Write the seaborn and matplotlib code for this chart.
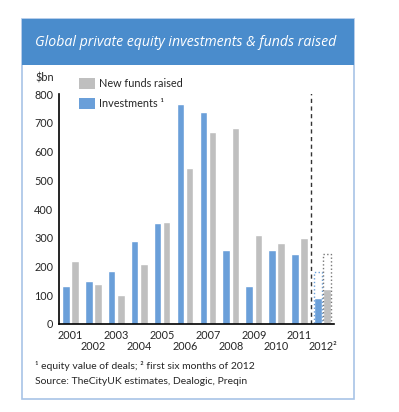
import pandas as pd
import numpy as np
import seaborn as sns
import matplotlib.pyplot as plt
import matplotlib.transforms as mtransforms
from matplotlib.patches import Rectangle, Patch

# datos
years = ['2001', '2002', '2003', '2004', '2005', '2006',
         '2007', '2008', '2009', '2010', '2011', '2012']
investments = [133, 150, 183, 290, 353, 764, 736, 258, 131, 259, 245, 90]
funds_raised = [218, 139, 102, 208, 356, 543, 669, 681, 310, 281, 299, 123]
# 2012 estimado a año completo (contorno punteado)
inv_2012_full = 181
funds_2012_full = 244

year_labels = list(years)
year_labels[-1] = '2012\u00b2'

blue = '#6a9fd9'
grey = '#bfbfbf'
header = '#4a8ccc'

df = pd.DataFrame({'Año': years * 2,
                   'valor': investments + funds_raised,
                   'serie': ['Investments'] * len(years) + ['New funds raised'] * len(years)})

sns.set_style('white')
plt.rcParams['font.family'] = ['Lato', 'DejaVu Sans']

fig = plt.figure(figsize=(3.99, 4.12), dpi=100)

# marco y cabecera
fig.patches.append(Rectangle((0.0551, 0.0316), 0.8321, 0.9223, transform=fig.transFigure,
                             facecolor='white', edgecolor='#a8c4e6', lw=1.2, zorder=-2))
fig.patches.append(Rectangle((0.0551, 0.842), 0.8321, 0.112, transform=fig.transFigure,
                             facecolor=header, edgecolor='none', zorder=-1))
fig.text(0.088, 0.898, 'Global private equity investments & funds raised', color='white',
         fontsize=10.2, style='italic', family=['Open Sans', 'DejaVu Sans'], va='center')

ax = fig.add_axes([0.1479, 0.2136, 0.689, 0.558])
ax.set_zorder(2)
ax.patch.set_alpha(0)

sns.barplot(data=df, x='Año', y='valor', hue='serie', hue_order=['Investments', 'New funds raised'],
            palette=[blue, grey], width=0.8, gap=0.18, saturation=1, legend=False, ax=ax)

# 2012 contornos punteados
ax.bar([11 - 0.2], [inv_2012_full], width=0.33, fill=False, edgecolor=blue, linestyle=':', lw=1)
ax.bar([11 + 0.2], [funds_2012_full], width=0.33, fill=False, edgecolor='#777777', linestyle=':', lw=1)

ax.vlines(10.5, 0, 805, colors='#333333', linestyles=(0, (3, 2.5)), lw=1)

ax.set_xlim(-0.5, 11.5)
ax.set_ylim(0, 800)
ax.set_yticks(range(0, 801, 100))
ax.set_xticks([i + 0.5 for i in range(11)] + [11.48])
ax.set_xticklabels([])
ax.tick_params(axis='x', which='major', direction='in', length=3.5, width=1.2, color='black')
ax.tick_params(axis='y', direction='in', length=3.5, width=1.2, color='black', pad=4, labelsize=7.8)

# etiquetas de años en dos filas
trans = mtransforms.blended_transform_factory(ax.transData, ax.transAxes)
for i, lab in enumerate(year_labels):
    dy = -8.2 if i % 2 == 0 else -16.5
    ax.text(i, 0, lab, transform=trans + mtransforms.ScaledTranslation(0, dy / 72, fig.dpi_scale_trans),
            ha='center', va='center', fontsize=7.8)

sns.despine(ax=ax, top=True, right=True)
ax.spines['left'].set_linewidth(1.2)
ax.spines['bottom'].set_linewidth(1.2)
ax.spines['left'].set_color('black')
ax.spines['bottom'].set_color('black')
ax.set_xlabel('')
ax.set_ylabel('')

fig.text(0.088, 1 - 78 / 412, '$bn', fontsize=7.8, va='center')

handles = [Patch(facecolor=grey, edgecolor='none'), Patch(facecolor=blue, edgecolor='none')]
fig.legend(handles, ['New funds raised', 'Investments \u00b9'], loc='upper left',
           bbox_to_anchor=(79 / 399, 1 - 78 / 412), frameon=False, fontsize=7.8,
           handlelength=1.5, handleheight=1.25, handletextpad=0.35, labelspacing=0.75,
           borderpad=0, borderaxespad=0)

fig.text(0.088, 1 - 366 / 412, '\u00b9 equity value of deals; \u00b2 first six months of 2012', fontsize=7.5, va='center')
fig.text(0.088, 1 - 382 / 412, 'Source: TheCityUK estimates, Dealogic, Preqin', fontsize=7.5, va='center')

fig.savefig('out.png', dpi=100)
